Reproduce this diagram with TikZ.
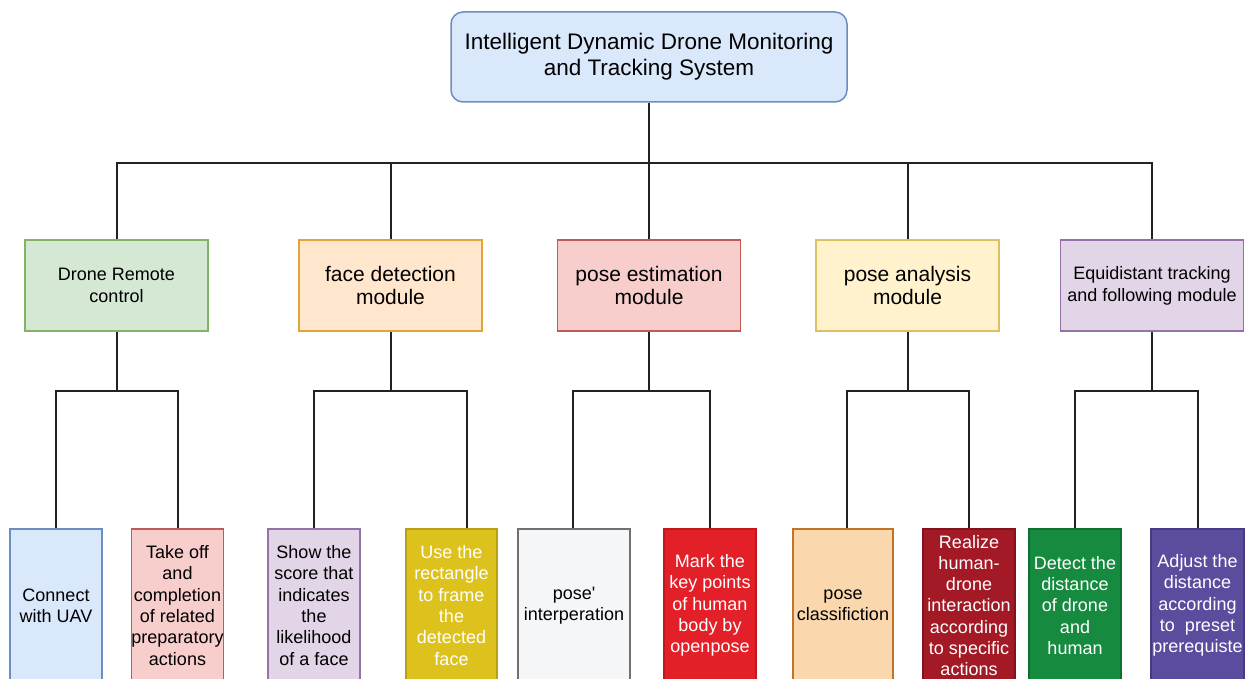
\documentclass[tikz,border=0pt]{standalone}
\usepackage{fontspec}
\setmainfont{Liberation Sans}
\usetikzlibrary{calc}

% palette
\definecolor{blueF}{HTML}{DAE8FC}\definecolor{blueD}{HTML}{6C8EBF}
\definecolor{greenF}{HTML}{D5E8D4}\definecolor{greenD}{HTML}{82B366}
\definecolor{orangeF}{HTML}{FFE6CC}\definecolor{orangeD}{HTML}{E0A53A}
\definecolor{redF}{HTML}{F8CECC}\definecolor{redD}{HTML}{C05A55}
\definecolor{yellowF}{HTML}{FFF2CC}\definecolor{yellowD}{HTML}{DDC060}
\definecolor{purpleF}{HTML}{E1D5E7}\definecolor{purpleD}{HTML}{9673A6}
\definecolor{grayF}{HTML}{F4F6F7}\definecolor{grayD}{HTML}{707070}
\definecolor{peachF}{HTML}{FAD7AC}\definecolor{peachD}{HTML}{C07428}
\definecolor{mustF}{HTML}{DDC21E}\definecolor{mustD}{HTML}{B8A014}
\definecolor{brightF}{HTML}{E32028}\definecolor{brightD}{HTML}{C0181F}
\definecolor{wineF}{HTML}{A31A26}\definecolor{wineD}{HTML}{82121C}
\definecolor{leafF}{HTML}{168B40}\definecolor{leafD}{HTML}{0F6F31}
\definecolor{violetF}{HTML}{5B4C9E}\definecolor{violetD}{HTML}{463A84}
\definecolor{wire}{HTML}{222222}

\tikzset{
  rootbox/.style={draw=blueD, fill=blueF, line width=1.5pt, rounded corners=12pt,
    minimum width=396pt, minimum height=90pt, inner sep=0pt, align=center,
    font=\fontsize{22.5}{26}\selectfont},
  modbox/.style={line width=1.5pt, minimum width=183pt, minimum height=91pt,
    inner sep=0pt, align=center, font=\fontsize{21}{23.5}\selectfont},
  smallmod/.style={font=\fontsize{18}{22}\selectfont},
  leafbox/.style={line width=1.5pt, minimum height=153pt, inner sep=0pt,
    align=center, font=\fontsize{18}{21.3}\selectfont},
  wirestyle/.style={draw=wire, line width=2pt},
}

\begin{document}
\begin{tikzpicture}[x=1pt,y=-1pt]
\clip (0,0) rectangle (1245,679);
\fill[white] (0,0) rectangle (1245,679);

% root
\node[rootbox] (root) at (649,57) {Intelligent Dynamic Drone Monitoring\\and Tracking System};

% modules
\node[modbox, smallmod, draw=greenD, fill=greenF] (m1) at (116.5,285.5) {Drone Remote\\control};
\node[modbox, draw=orangeD, fill=orangeF] (m2) at (390.5,285.5) {face detection\\module};
\node[modbox, draw=redD, fill=redF] (m3) at (649,285.5) {pose estimation\\module};
\node[modbox, draw=yellowD, fill=yellowF] (m4) at (907.5,285.5) {pose analysis\\module};
\node[modbox, smallmod, draw=purpleD, fill=purpleF] (m5) at (1152,285.5) {Equidistant tracking\\and following module};

% leaves
\node[leafbox, minimum width=92pt, draw=blueD, fill=blueF] (b1) at (56,605.5) {Connect\\with UAV};
\node[leafbox, minimum width=91pt, draw=redD, fill=redF] (b2) at (177.5,605.5) {Take off\\and\\completion\\of related\\preparatory\\actions};
\node[leafbox, minimum width=92pt, draw=purpleD, fill=purpleF] (b3) at (314,605.5) {Show the\\score that\\indicates\\the\\likelihood\\of a face};
\node[leafbox, minimum width=91pt, draw=mustD, fill=mustF, text=white] (b4) at (451.5,605.5) {Use the\\rectangle\\to frame\\the\\detected\\face};
\node[leafbox, minimum width=112pt, draw=grayD, fill=grayF] (b5) at (574,605.5) {pose\textquotesingle\\interperation};
\node[leafbox, minimum width=92pt, draw=brightD, fill=brightF, text=white] (b6) at (710,605.5) {Mark the\\key points\\of human\\body by\\openpose};
\node[leafbox, minimum width=100pt, draw=peachD, fill=peachF] (b7) at (843,605.5) {pose\\classifiction};
\node[leafbox, minimum width=92pt, draw=wineD, fill=wineF, text=white] (b8) at (969,605.5) {Realize\\human-\\drone\\interaction\\according\\to specific\\actions};
\node[leafbox, minimum width=92pt, draw=leafD, fill=leafF, text=white] (b9) at (1075,605.5) {Detect the\\distance\\of drone\\and\\human};
\node[leafbox, minimum width=93pt, draw=violetD, fill=violetF, text=white] (b10) at (1197.5,605.5) {Adjust the\\distance\\according\\to~~preset\\prerequiste};

% junction points on the buses
\coordinate (bus) at (649,163);
\coordinate (j1) at (116.5,391);
\coordinate (j2) at (390.5,391);
\coordinate (j3) at (649,391);
\coordinate (j4) at (907.5,391);
\coordinate (j5) at (1152,391);

% root to modules
\draw[wirestyle] (root.south) -- (bus);
\draw[wirestyle] (m1.north) |- (bus) -| (m5.north);
\draw[wirestyle] (m2.north) -- (m2.north |- bus);
\draw[wirestyle] (m3.north) -- (bus);
\draw[wirestyle] (m4.north) -- (m4.north |- bus);

% modules to leaves
\draw[wirestyle] (m1.south) -- (j1);
\draw[wirestyle] (b1.north) |- (j1) -| (b2.north);
\draw[wirestyle] (m2.south) -- (j2);
\draw[wirestyle] (b3.north) |- (j2) -| ([xshift=15.5pt]b4.north);
\draw[wirestyle] (m3.south) -- (j3);
\draw[wirestyle] ([xshift=-1pt]b5.north) |- (j3) -| (b6.north);
\draw[wirestyle] (m4.south) -- (j4);
\draw[wirestyle] ([xshift=4pt]b7.north) |- (j4) -| (b8.north);
\draw[wirestyle] (m5.south) -- (j5);
\draw[wirestyle] (b9.north) |- (j5) -| (b10.north);
\end{tikzpicture}
\end{document}
